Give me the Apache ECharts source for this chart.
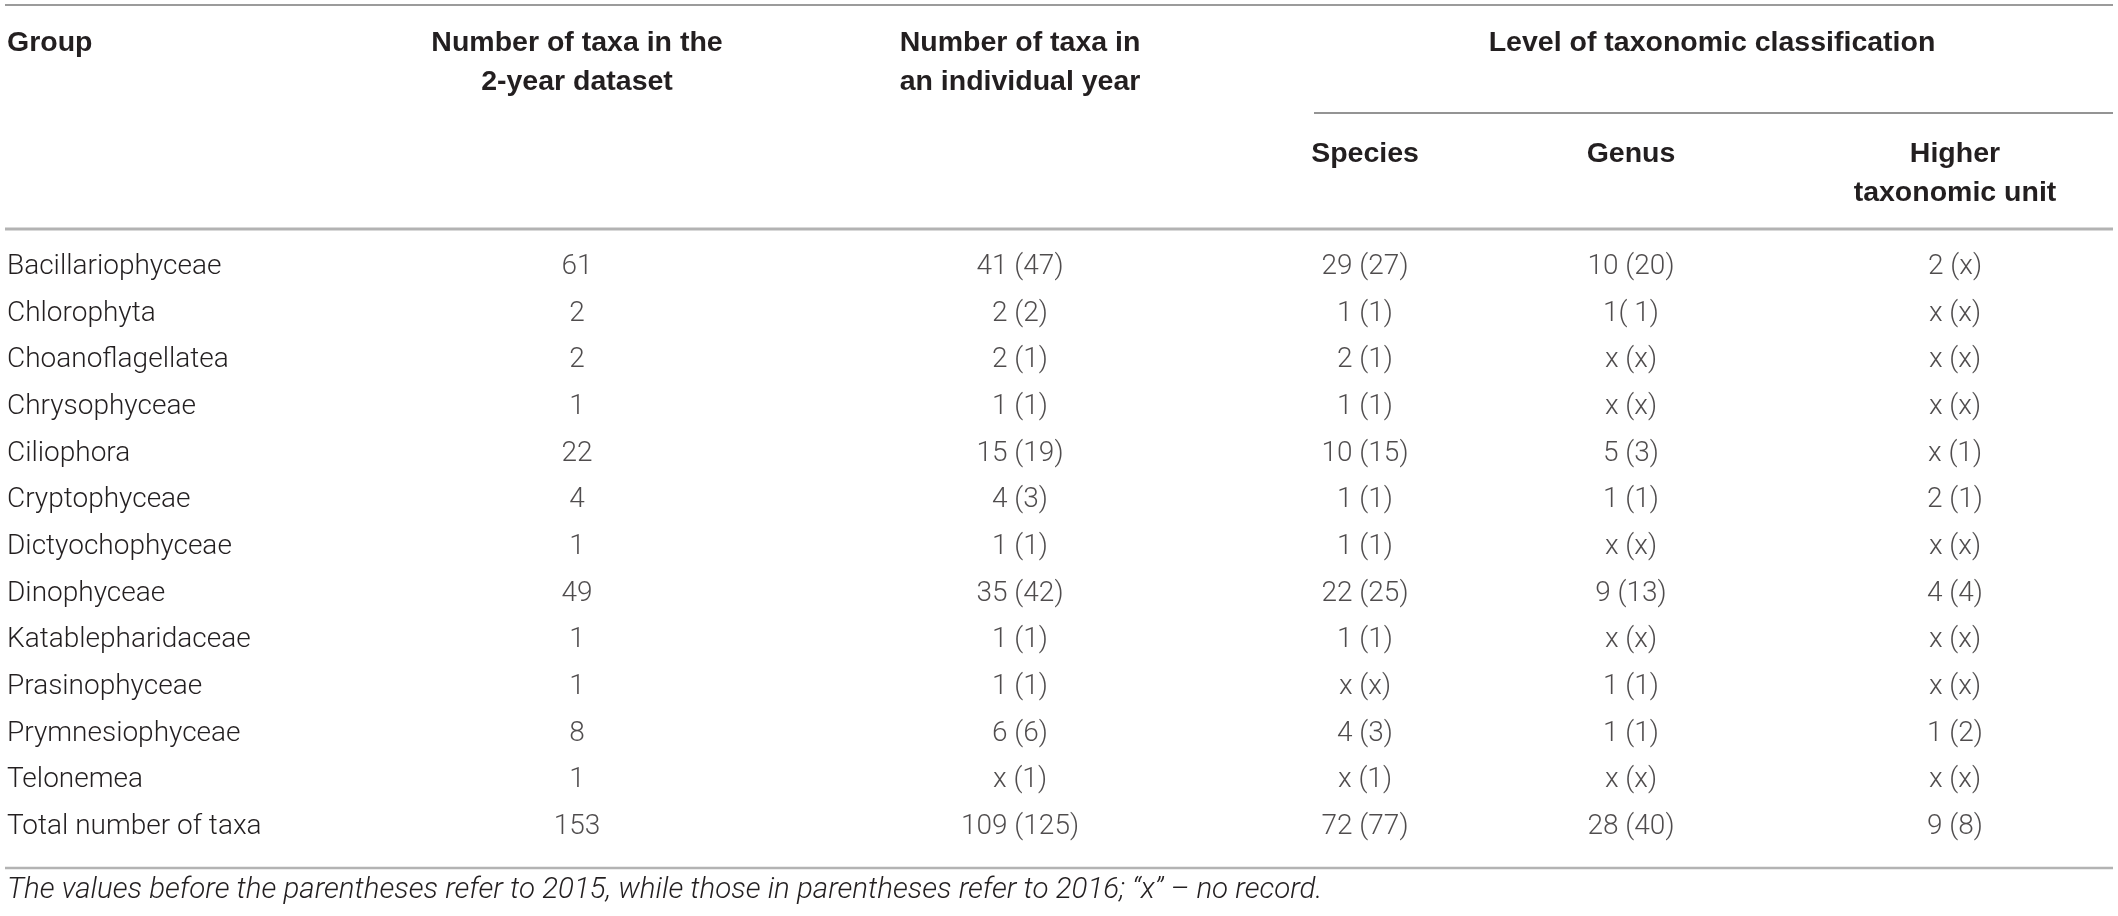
<!DOCTYPE html>
<html>
<head>
<meta charset="utf-8">
<script src="https://cdn.jsdelivr.net/npm/echarts@6/dist/echarts.min.js"></script>
<style>
html,body{margin:0;padding:0;background:#ffffff;}
#chart{width:2118px;height:916px;}
</style>
</head>
<body>
<div id="chart"></div>
<script>
// ---------- data ----------
const groups = [
  'Bacillariophyceae','Chlorophyta','Choanoflagellatea','Chrysophyceae','Ciliophora',
  'Cryptophyceae','Dictyochophyceae','Dinophyceae','Katablepharidaceae','Prasinophyceae',
  'Prymnesiophyceae','Telonemea','Total number of taxa'
];
const taxaTwoYear = ['61','2','2','1','22','4','1','49','1','1','8','1','153'];
const taxaIndividualYear = ['41 (47)','2 (2)','2 (1)','1 (1)','15 (19)','4 (3)','1 (1)','35 (42)','1 (1)','1 (1)','6 (6)','x (1)','109 (125)'];
const levelSpecies = ['29 (27)','1 (1)','2 (1)','1 (1)','10 (15)','1 (1)','1 (1)','22 (25)','1 (1)','x (x)','4 (3)','x (1)','72 (77)'];
const levelGenus = ['10 (20)','1( 1)','x (x)','x (x)','5 (3)','1 (1)','x (x)','9 (13)','x (x)','1 (1)','1 (1)','x (x)','28 (40)'];
const levelHigher = ['2 (x)','x (x)','x (x)','x (x)','x (1)','2 (1)','x (x)','4 (4)','x (x)','x (x)','1 (2)','x (x)','9 (8)'];

const headerGroup = 'Group';
const headerTwoYear = ['Number of taxa in the', '2-year dataset'];
const headerIndividual = ['Number of taxa in', 'an individual year'];
const headerLevel = 'Level of taxonomic classification';
const headerSpecies = 'Species';
const headerGenus = 'Genus';
const headerHigher = ['Higher', 'taxonomic unit'];
const footnote = 'The values before the parentheses refer to 2015, while those in parentheses refer to 2016; \u201cx\u201d \u2013 no record.';

// ---------- layout ----------
const W = 2118;
const COL_X = [577, 1020, 1365, 1631, 1955];
const columns = [taxaTwoYear, taxaIndividualYear, levelSpecies, levelGenus, levelHigher];
const TEXT = '#231f20';
const BODY_FONT = 'Roboto, "Liberation Sans", Arial, sans-serif';
const HEAD_FONT = '"Liberation Sans", Arial, Helvetica, sans-serif';
const BODY_SIZE = 28;
const HEAD_SIZE = 28.5;

const series = columns.map((col, c) => ({
  type: 'scatter',
  symbolSize: 0,
  silent: true,
  data: groups.map((g, i) => [COL_X[c], g]),
  label: {
    show: true,
    position: 'inside',
    formatter: p => col[p.dataIndex],
    color: TEXT,
    fontFamily: BODY_FONT,
    fontWeight: 300,
    fontSize: BODY_SIZE
  }
}));

function headText(text, x, y, align) {
  return {
    type: 'text',
    silent: true,
    style: {
      text: text, x: x, y: y,
      align: align || 'center', verticalAlign: 'middle',
      fill: TEXT,
      font: 'bold ' + HEAD_SIZE + 'px ' + HEAD_FONT
    }
  };
}
function rule(x1, x2, y, color, w) {
  return {
    type: 'line', silent: true,
    shape: { x1: x1, y1: y, x2: x2, y2: y },
    style: { stroke: color, lineWidth: w }
  };
}

const graphic = [
  rule(5, 2113, 5, '#9b9b9b', 2),
  rule(1314, 2113, 113, '#707070', 1.5),
  rule(5, 2113, 229, '#b3b3b3', 3),
  rule(5, 2113, 868, '#b3b3b3', 2.5),
  headText(headerGroup, 7, 43, 'left'),
  headText(headerTwoYear[0], COL_X[0], 43),
  headText(headerTwoYear[1], COL_X[0], 82),
  headText(headerIndividual[0], COL_X[1], 43),
  headText(headerIndividual[1], COL_X[1], 82),
  headText(headerLevel, 1712, 43),
  headText(headerSpecies, COL_X[2], 154),
  headText(headerGenus, COL_X[3], 154),
  headText(headerHigher[0], COL_X[4], 154),
  headText(headerHigher[1], COL_X[4], 193),
  {
    type: 'text', silent: true,
    style: {
      text: footnote, x: 7, y: 891, align: 'left', verticalAlign: 'middle',
      fill: TEXT,
      font: 'italic 300 29.5px ' + BODY_FONT
    }
  }
];

const chart = echarts.init(document.getElementById('chart'), null, { renderer: 'canvas' });
chart.setOption({
  animation: false,
  backgroundColor: '#ffffff',
  grid: { left: 7, right: 0, top: 243.7, bottom: 65.7, containLabel: false },
  xAxis: { type: 'value', min: 7, max: W, show: false },
  yAxis: {
    type: 'category',
    data: groups,
    inverse: true,
    axisLine: { show: false },
    axisTick: { show: false },
    splitLine: { show: false },
    axisLabel: {
      interval: 0,
      align: 'left',
      margin: 0,
      color: TEXT,
      fontFamily: BODY_FONT,
      fontWeight: 300,
      fontSize: BODY_SIZE
    }
  },
  series: series,
  graphic: graphic
});
</script>
</body>
</html>
